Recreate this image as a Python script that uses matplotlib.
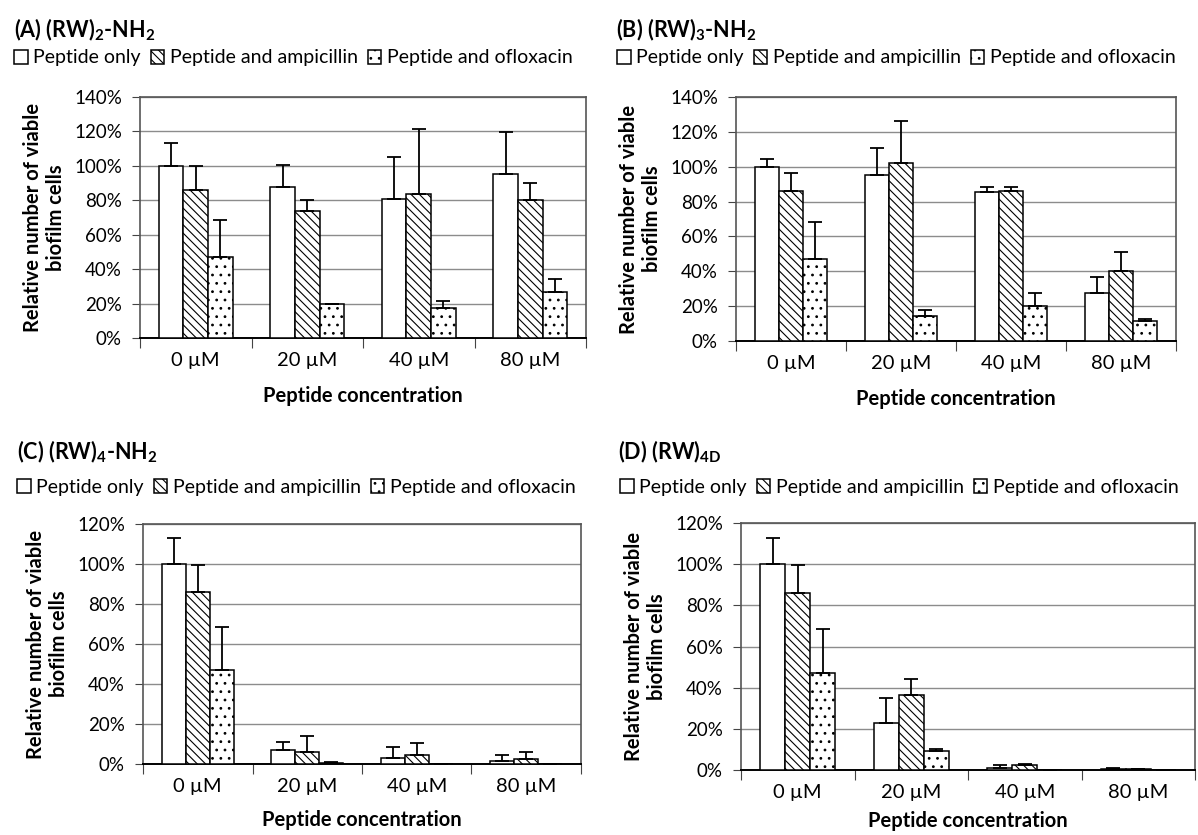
import numpy as np
import matplotlib
matplotlib.use('Agg')
import matplotlib.pyplot as plt

# fonts
plt.rcParams['font.family'] = ['Lato', 'DejaVu Sans']
plt.rcParams['mathtext.fontset'] = 'custom'
plt.rcParams['mathtext.rm'] = 'Lato'
plt.rcParams['mathtext.bf'] = 'Lato:bold'
plt.rcParams['mathtext.default'] = 'bf'
plt.rcParams['hatch.linewidth'] = 0.8

# Categories and series names
conc_labels = ['0 µM', '20 µM', '40 µM', '80 µM']
series_names = ['Peptide only', 'Peptide and ampicillin', 'Peptide and ofloxacin']

# (A) (RW)2-NH2  values in % and upper error
rw2_only = [100, 87.5, 81, 95]
rw2_only_err = [13, 13, 24, 24.5]
rw2_amp = [86, 74, 83.5, 80]
rw2_amp_err = [14, 6, 38, 10]
rw2_oflox = [47, 19.5, 17.5, 27]
rw2_oflox_err = [21.5, 0.3, 4, 7.5]

# (B) (RW)3-NH2
rw3_only = [100, 95.5, 85.5, 27.5]
rw3_only_err = [4.5, 15.5, 2.7, 9.5]
rw3_amp = [86, 102, 86, 40]
rw3_amp_err = [10.5, 24.5, 2.3, 11]
rw3_oflox = [47, 14.5, 20, 11.5]
rw3_oflox_err = [21.5, 3.3, 7.3, 1]

# (C) (RW)4-NH2
rw4_only = [100, 7, 3, 1.7]
rw4_only_err = [13, 4, 5.7, 2.8]
rw4_amp = [86, 6.2, 4.7, 2.5]
rw4_amp_err = [13.7, 7.6, 5.8, 3.3]
rw4_oflox = [47, 0.5, 0, 0]
rw4_oflox_err = [21.4, 0.3, 0, 0]

# (D) (RW)4D
rw4d_only = [100, 23, 1.1, 0.5]
rw4d_only_err = [12.8, 12, 1.5, 0.6]
rw4d_amp = [86, 36.6, 2.5, 0.5]
rw4d_amp_err = [13.5, 7.8, 0.2, 0.2]
rw4d_oflox = [47, 9, 0, 0]
rw4d_oflox_err = [21.4, 1.1, 0, 0]

W, H = 1198, 835
fig = plt.figure(figsize=(W / 100, H / 100), dpi=100)


def px_axes(left, top, right, bottom):
    # axes from pixel box
    return fig.add_axes([left / W, 1 - bottom / H, (right - left) / W, (bottom - top) / H])


def draw_panel(ax, title, tpos, lpos, vals, errs, ymax, xpad=12):
    x = np.arange(len(conc_labels))
    width = 0.22
    hatches = ['', '\\\\\\\\', '..']
    bars = []
    for i in range(3):
        b = ax.bar(x + (i - 1) * width, vals[i], width, color='white', edgecolor='black',
                   linewidth=1.1, hatch=hatches[i], zorder=3, label=series_names[i])
        bars.append(b)
        # upward error bars only
        ax.errorbar(x + (i - 1) * width, vals[i], yerr=[np.zeros(len(x)), errs[i]],
                    fmt='none', ecolor='black', elinewidth=1.3, capsize=5, capthick=1.3, zorder=4)

    ax.set_xlim(-0.5, len(conc_labels) - 0.5)
    ax.set_ylim(0, ymax)
    ax.set_yticks(np.arange(0, ymax + 1, 20))
    ax.set_yticklabels(['%d%%' % v for v in np.arange(0, ymax + 1, 20)], fontsize=13.5)
    ax.yaxis.grid(True, color='#8c8c8c', linewidth=1, zorder=0)
    ax.set_axisbelow(True)

    # ticks between categories
    ax.set_xticks(np.arange(-0.5, len(conc_labels), 1))
    ax.set_xticklabels([])
    ax.set_xticks(x, minor=True)
    ax.set_xticklabels(conc_labels, minor=True, fontsize=14.5)
    ax.tick_params(axis='x', which='minor', length=0, pad=10)
    ax.tick_params(axis='x', which='major', length=7, color='#444444')
    ax.tick_params(axis='y', length=6, color='#444444', pad=7)

    for s in ['top', 'right', 'left']:
        ax.spines[s].set_color('#555555')
        ax.spines[s].set_linewidth(1.2)
    ax.spines['bottom'].set_color('black')
    ax.spines['bottom'].set_linewidth(1.4)

    ax.set_xlabel('Peptide concentration', fontsize=14.5, fontweight='bold', labelpad=xpad)
    ax.set_ylabel('Relative number of viable\nbiofilm cells', fontsize=14.5,
                  fontweight='bold', linespacing=1.15, labelpad=6)

    fig.text(tpos[0] / W, 1 - tpos[1] / H, title, fontsize=15.5, fontweight='bold', va='center')
    ax.legend(handles=bars, loc='center left', bbox_to_anchor=(lpos[0] / W, 1 - lpos[1] / H),
              bbox_transform=fig.transFigure, ncol=3, frameon=False, fontsize=14,
              handlelength=0.7, handleheight=0.7, handletextpad=0.3, columnspacing=0.5,
              borderpad=0, borderaxespad=0)


axA = px_axes(140, 97, 586, 338)
draw_panel(axA, '(A) (RW)$_{2}$-NH$_{2}$', (14, 30), (14, 58),
           [rw2_only, rw2_amp, rw2_oflox], [rw2_only_err, rw2_amp_err, rw2_oflox_err], 140)

axB = px_axes(736, 97, 1176, 341)
draw_panel(axB, '(B) (RW)$_{3}$-NH$_{2}$', (616, 30), (617, 58),
           [rw3_only, rw3_amp, rw3_oflox], [rw3_only_err, rw3_amp_err, rw3_oflox_err], 140)

axC = px_axes(143, 524, 581, 764)
draw_panel(axC, '(C) (RW)$_{4}$-NH$_{2}$', (17, 452), (17, 487),
           [rw4_only, rw4_amp, rw4_oflox], [rw4_only_err, rw4_amp_err, rw4_oflox_err], 120,
           xpad=11)

axD = px_axes(741, 523, 1195, 770)
draw_panel(axD, '(D) (RW)$_{4D}$', (618, 452), (620, 487),
           [rw4d_only, rw4d_amp, rw4d_oflox], [rw4d_only_err, rw4d_amp_err, rw4d_oflox_err], 120,
           xpad=7)

fig.savefig('out.png', dpi=100)
